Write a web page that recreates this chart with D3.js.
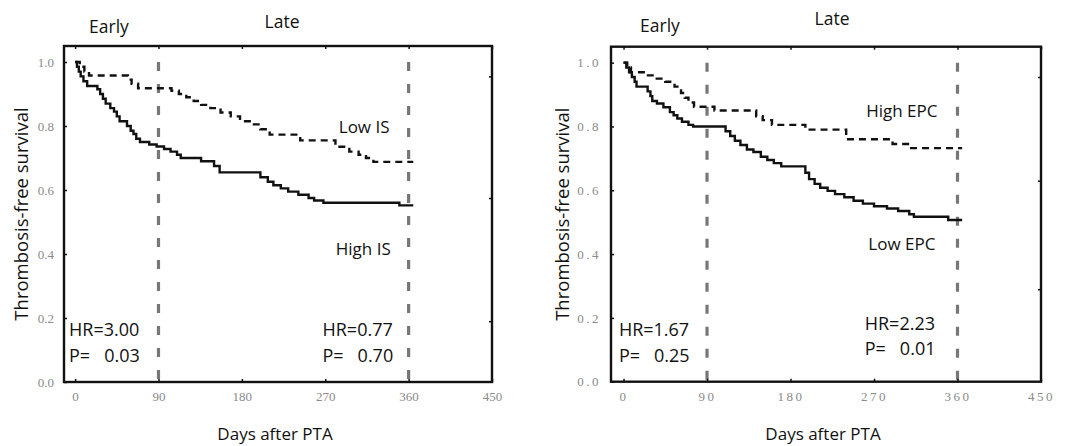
<!DOCTYPE html>
<html>
<head>
<meta charset="utf-8">
<script src="https://cdn.jsdelivr.net/npm/d3@7"></script>
<style>
body{margin:0;background:#fff;}
svg{display:block;}
</style>
</head>
<body>
<svg id="chart" width="1072" height="446"></svg>
<script>
"use strict";

//
//	Axis ticks and the early / late split
//
var dayTicks = [0, 90, 180, 270, 360, 450];
var survTicks = [0.0, 0.2, 0.4, 0.6, 0.8, 1.0];
var phaseCuts = [90, 360];
var phaseNames = ["Early", "Late"];
var endDay = 365;

//
//	Left panel: intimal stenosis groups, steps as [day, survival]
//
var highIS = [[0,1.0],[2,0.985],[4,0.97],[6,0.955],[9,0.94],[13,0.925],[24,0.915],[27,0.9],[30,0.885],[33,0.87],
	[38,0.856],[42,0.845],[45,0.83],[48,0.815],[56,0.8],[60,0.785],[63,0.775],[66,0.76],[70,0.75],[80,0.742],
	[88,0.736],[96,0.728],[103,0.72],[110,0.71],[114,0.70],[136,0.69],[150,0.675],[156,0.655],[200,0.64],
	[208,0.626],[214,0.615],[222,0.605],[230,0.595],[241,0.585],[252,0.575],[258,0.567],[268,0.56],[350,0.552]];
var lowIS = [[0,1.0],[5,0.985],[10,0.97],[15,0.958],[57,0.945],[61,0.932],[68,0.918],[104,0.91],[112,0.9],
	[120,0.89],[128,0.878],[136,0.866],[146,0.856],[157,0.842],[168,0.83],[178,0.815],[190,0.805],[200,0.79],
	[210,0.773],[243,0.755],[281,0.735],[296,0.72],[306,0.71],[314,0.70],[322,0.688]];
var sideTicksIS = [0.955, 0.575, 0.19];
var groupNamesIS = ["Low IS", "High IS"];
var statsIS = [["HR=3.00", "P=   0.03"], ["HR=0.77", "P=   0.70"]];

//
//	Right panel: EPC groups
//
var lowEPC = [[0,1.0],[3,0.985],[6,0.97],[9,0.955],[12,0.94],[14,0.925],[26,0.91],[29,0.895],[31,0.88],[36,0.872],
	[43,0.86],[50,0.845],[54,0.835],[58,0.825],[63,0.815],[70,0.805],[75,0.8],[110,0.785],[115,0.77],[120,0.755],
	[126,0.742],[133,0.728],[140,0.72],[148,0.705],[155,0.695],[162,0.685],[170,0.675],[196,0.655],[200,0.635],
	[206,0.62],[212,0.608],[220,0.598],[228,0.588],[238,0.578],[248,0.567],[258,0.558],[270,0.55],[284,0.543],
	[296,0.535],[308,0.525],[313,0.517],[350,0.507]];
var highEPC = [[0,1.0],[4,0.985],[8,0.97],[25,0.96],[33,0.95],[45,0.94],[55,0.925],[62,0.905],[66,0.89],[70,0.875],
	[76,0.862],[98,0.85],[143,0.832],[150,0.82],[160,0.805],[196,0.79],[240,0.76],[290,0.745],[310,0.732]];
var sideTicksEPC = [0.955, 0.63, 0.29];
var groupNamesEPC = ["High EPC", "Low EPC"];
var statsEPC = [["HR=1.67", "P=   0.25"], ["HR=2.23", "P=   0.01"]];

var svg = d3.select("#chart");

//
//	Panel layouts (pixels and label anchors)
//
var panels = [
	{ box:[64, 492, 46, 382], dayMin:-12, tickSpacing:0,
	  solid:highIS, dashed:lowIS, side:sideTicksIS, names:groupNamesIS, stats:statsIS,
	  nameAt:[[312, 0.779], [311, 0.398]], statAt:[[-6.6, 0.145, 0.064], [267, 0.145, 0.064]],
	  phaseAt:[[109, 33], [282, 28]], ylabelX:28 },
	{ box:[611, 1041, 46.7, 381.7], dayMin:-13.5, tickSpacing:2.5,
	  solid:lowEPC, dashed:highEPC, side:sideTicksEPC, names:groupNamesEPC, stats:statsEPC,
	  nameAt:[[300, 0.83], [300, 0.413]], statAt:[[-5, 0.143, 0.062], [260, 0.162, 0.084]],
	  phaseAt:[[660, 32], [832, 25]], ylabelX:569 }
];

panels.forEach(drawPanel);

function drawPanel(p){
	var x = d3.scaleLinear().domain([p.dayMin, 450]).range([p.box[0], p.box[1]]);
	var y = d3.scaleLinear().domain([0, 1.05]).range([p.box[3], p.box[2]]);
	var g = svg.append("g");

	//	grey dashed phase cut lines
	g.selectAll("line.cut").data(phaseCuts).enter().append("line")
		.attr("class", "cut")
		.attr("x1", function(d){ return x(d); }).attr("x2", function(d){ return x(d); })
		.attr("y1", y(1.0)).attr("y2", y(0))
		.attr("stroke", "#777").attr("stroke-width", 3.2)
		.attr("stroke-dasharray", "9,13");

	//	survival curves
	var line = d3.line()
		.x(function(d){ return x(d[0]); })
		.y(function(d){ return y(d[1]); })
		.curve(d3.curveStepAfter);

	function withEnd(s){
		return s.concat([[endDay, s[s.length - 1][1]]]);
	}

	g.append("path").datum(withEnd(p.dashed))
		.attr("d", line).attr("fill", "none")
		.attr("stroke", "#111").attr("stroke-width", 2.4)
		.attr("stroke-dasharray", "7,5");
	g.append("path").datum(withEnd(p.solid))
		.attr("d", line).attr("fill", "none")
		.attr("stroke", "#111").attr("stroke-width", 2.4);

	//	axes (inward ticks, grey serif labels)
	var bottom = d3.axisBottom(x).tickValues(dayTicks).tickSize(-3).tickPadding(10);
	var top = d3.axisTop(x).tickValues(dayTicks).tickSize(-3).tickFormat("");
	var left = d3.axisLeft(y).tickValues(survTicks).tickSize(-3).tickPadding(10).tickFormat(d3.format(".1f"));
	var right = d3.axisRight(y).tickValues(p.side).tickSize(-3).tickFormat("");

	var ax = [
		g.append("g").attr("transform", "translate(0," + p.box[3] + ")").call(bottom),
		g.append("g").attr("transform", "translate(0," + p.box[2] + ")").call(top),
		g.append("g").attr("transform", "translate(" + p.box[0] + ",0)").call(left),
		g.append("g").attr("transform", "translate(" + p.box[1] + ",0)").call(right)
	];
	ax.forEach(function(a){
		a.select(".domain").remove();
		a.selectAll(".tick line").attr("stroke", "#111").attr("stroke-width", 1.5);
		a.selectAll(".tick text")
			.attr("fill", "#8a8a8a")
			.style("font-family", "'Liberation Serif', serif")
			.style("font-size", "13px")
			.style("letter-spacing", p.tickSpacing + "px");
	});

	//	frame
	g.append("rect")
		.attr("x", p.box[0]).attr("y", p.box[2])
		.attr("width", p.box[1] - p.box[0]).attr("height", p.box[3] - p.box[2])
		.attr("fill", "none").attr("stroke", "#111").attr("stroke-width", 2.4);

	var font = "'Open Sans', sans-serif";

	//	group names
	p.names.forEach(function(n, i){
		g.append("text").text(n)
			.attr("x", x(p.nameAt[i][0])).attr("y", y(p.nameAt[i][1]))
			.attr("text-anchor", "middle")
			.style("font-family", font).style("font-size", "17px").attr("fill", "#111");
	});

	//	hazard ratios
	p.stats.forEach(function(s, i){
		var a = p.statAt[i];
		g.append("text").text(s[0])
			.attr("x", x(a[0])).attr("y", y(a[1]))
			.style("font-family", font).style("font-size", "18px").attr("fill", "#111");
		g.append("text").text(s[1])
			.attr("x", x(a[0])).attr("y", y(a[2]))
			.attr("xml:space", "preserve").style("white-space", "pre")
			.style("font-family", font).style("font-size", "18px").attr("fill", "#111");
	});

	//	Early / Late headers
	phaseNames.forEach(function(n, i){
		g.append("text").text(n)
			.attr("x", p.phaseAt[i][0]).attr("y", p.phaseAt[i][1])
			.attr("text-anchor", "middle")
			.style("font-family", font).style("font-size", "17.5px").attr("fill", "#111");
	});

	//	axis titles
	g.append("text").text("Days after PTA")
		.attr("x", (p.box[0] + p.box[1]) / 2 - 3).attr("y", 440)
		.attr("text-anchor", "middle")
		.style("font-family", font).style("font-size", "17px").attr("fill", "#111");
	g.append("text").text("Thrombosis-free survival")
		.attr("transform", "translate(" + p.ylabelX + "," + ((p.box[2] + p.box[3]) / 2) + ") rotate(-90)")
		.attr("text-anchor", "middle")
		.style("font-family", font).style("font-size", "18.5px").attr("fill", "#111");
}
</script>
</body>
</html>
